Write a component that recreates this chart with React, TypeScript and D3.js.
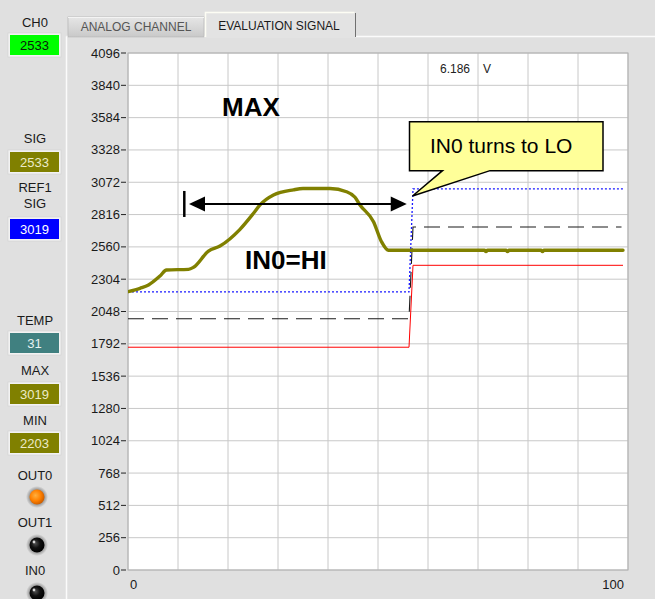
import React from 'react';
import * as d3 from 'd3';

const W = 655;
const H = 599;
const FONT = "'Liberation Sans', Arial, Helvetica, sans-serif";

// axis ticks
const yTickValues = [0, 256, 512, 768, 1024, 1280, 1536, 1792, 2048, 2304, 2560, 2816, 3072, 3328, 3584, 3840, 4096];
const xGridValues = [0, 10, 20, 30, 40, 50, 60, 70, 80, 90, 100];
const xTickLabels = [0, 100];

// SIG (olive) curve
const sigX = [0, 2.4, 4.1, 6.4, 7.7, 12.1, 13.1, 16.1, 18.4, 22.4, 25.1, 26.4, 29.1, 33.1, 35.0, 40.4, 43.7, 45.4, 46.4, 49.1, 50.7, 52.1, 71.3, 71.6, 71.9, 75.6, 75.9, 76.2, 82.6, 82.9, 83.2, 99];
const sigY = [2205, 2232, 2258, 2329, 2377, 2382, 2398, 2527, 2567, 2699, 2826, 2892, 2971, 3012, 3022, 3022, 2997, 2953, 2892, 2760, 2601, 2533, 2533, 2522, 2533, 2533, 2522, 2533, 2533, 2522, 2533, 2533];

// REF1 SIG (blue dotted)
const refX = [0, 56.2, 57.0, 99];
const refY = [2203, 2203, 3019, 3019];
// lower threshold (red)
const lowX = [0, 56.2, 57.0, 99];
const lowY = [1765, 1765, 2414, 2414];
// switching threshold (dashed)
const midX = [0, 56.2, 57.0, 98.7];
const midY = [1990, 1990, 2718, 2718];

// left panel indicators
const indLabels = ['CH0', 'SIG', 'REF1|SIG', 'TEMP', 'MAX', 'MIN'];
const indValues = ['2533', '2533', '3019', '31', '3019', '2203'];
const indFill = ['#00ff00', '#808000', '#0000ff', '#408080', '#808000', '#808000'];
const indText = ['#0a200a', '#ecebc8', '#ffffff', '#e6f2f2', '#ecebc8', '#ecebc8'];
const ledLabels = ['OUT0', 'OUT1', 'IN0'];
const ledOn = [true, false, false];

// annotations
const voltText = '6.186';
const voltUnit = 'V';

export default function App() {
  const x = d3.scaleLinear().domain([0, 100]).range([128, 628]);
  const y = d3.scaleLinear().domain([0, 4096]).range([570, 53]);

  const line = d3.line<[number, number]>().x(d => x(d[0])).y(d => y(d[1]));
  const smooth = d3.line<[number, number]>().x(d => x(d[0])).y(d => y(d[1])).curve(d3.curveMonotoneX);

  const zip = (a: number[], b: number[]) => a.map((v, i) => [v, b[i]] as [number, number]);

  // indicator layout
  const labelYs = [[27], [143], [192, 208], [325], [375], [425]];
  const boxYs = [35, 152, 219, 333, 384, 433];
  const ledLabelY = [480, 527, 575];
  const ledCY = [497, 545, 593];

  // callout in data space
  const cb = { x0: 56.3, x1: 95.0, v0: 3552, v1: 3164 };
  const calloutPath = [
    [x(cb.x0), y(cb.v0)],
    [x(cb.x1), y(cb.v0)],
    [x(cb.x1), y(cb.v1)],
    [x(72.4), y(cb.v1)],
    [x(56.9), y(2963)],
    [x(62.9), y(cb.v1)],
    [x(cb.x0), y(cb.v1)],
  ];
  const calloutD = 'M' + calloutPath.map(p => p.join(',')).join('L') + 'Z';

  const arrowV = 2900;
  const ay = y(arrowV);
  const aL = x(12.2);
  const aR = x(55.75);

  return (
    <svg width={W} height={H} style={{ position: 'absolute', left: 0, top: 0, display: 'block' }} fontFamily={FONT}>
      <defs>
        <radialGradient id="ledOn" cx="40%" cy="40%" r="60%">
          <stop offset="0%" stopColor="#ffb040" />
          <stop offset="60%" stopColor="#ff8000" />
          <stop offset="100%" stopColor="#d06000" />
        </radialGradient>
        <radialGradient id="ledOff" cx="40%" cy="40%" r="60%">
          <stop offset="0%" stopColor="#505050" />
          <stop offset="50%" stopColor="#101010" />
          <stop offset="100%" stopColor="#000000" />
        </radialGradient>
        <radialGradient id="halo" cx="50%" cy="50%" r="50%">
          <stop offset="60%" stopColor="#8a8a8a" />
          <stop offset="100%" stopColor="#e0e0e0" />
        </radialGradient>
        <linearGradient id="tab1" x1="0" y1="0" x2="0" y2="1">
          <stop offset="0%" stopColor="#e6e6e6" />
          <stop offset="100%" stopColor="#c9c9c9" />
        </linearGradient>
        <clipPath id="plotClip">
          <rect x={x(0)} y={y(4096)} width={x(100) - x(0)} height={y(0) - y(4096)} />
        </clipPath>
      </defs>

      {/* background */}
      <rect x={0} y={0} width={W} height={H} fill="#e0e0e0" />

      {/* tab panel */}
      <line x1={66.5} y1={36.5} x2={W} y2={36.5} stroke="#fbfbfb" strokeWidth={1.5} />
      <line x1={66.5} y1={36.5} x2={66.5} y2={H} stroke="#fbfbfb" strokeWidth={1.5} />

      {/* tabs */}
      <rect x={68} y={17} width={136} height={20} fill="url(#tab1)" stroke="#b8b8b8" strokeWidth={0.8} />
      <line x1={68} y1={17.5} x2={204} y2={17.5} stroke="#f4f4f4" />
      <text x={136} y={31} textAnchor="middle" fontSize={12} fill="#555555">ANALOG CHANNEL</text>
      <rect x={205} y={12} width={150} height={26} fill="#e3e3e3" />
      <path d="M205.5,37 L205.5,12.5 L354.5,12.5" fill="none" stroke="#fdfdf4" strokeWidth={1.5} />
      <line x1={355.5} y1={13} x2={355.5} y2={37} stroke="#707070" strokeWidth={1} />
      <text x={279} y={30} textAnchor="middle" fontSize={12} fill="#1a1a1a">EVALUATION SIGNAL</text>

      {/* plot area */}
      <rect x={x(0)} y={y(4096)} width={x(100) - x(0)} height={y(0) - y(4096)} fill="#ffffff" />
      {xGridValues.map(v => (
        <line key={'gx' + v} x1={x(v)} x2={x(v)} y1={y(4096)} y2={y(0)} stroke="#c8c8c8" strokeWidth={1} />
      ))}
      {yTickValues.map(v => (
        <line key={'gy' + v} x1={x(0)} x2={x(100)} y1={y(v)} y2={y(v)} stroke="#c8c8c8" strokeWidth={1} />
      ))}
      <rect x={x(0)} y={y(4096)} width={x(100) - x(0)} height={y(0) - y(4096)} fill="none" stroke="#b0b0b0" strokeWidth={1} />

      {/* y axis ticks & labels */}
      {yTickValues.map(v => (
        <g key={'yt' + v}>
          <line x1={121} x2={126} y1={y(v)} y2={y(v)} stroke="#222" strokeWidth={1} />
          <text x={120} y={y(v) + 4.5} textAnchor="end" fontSize={13} fill="#1a1a1a">{v}</text>
        </g>
      ))}
      {xTickLabels.map((v, i) => (
        <text key={'xt' + v} x={i === 0 ? x(v) + 2 : x(v) - 4} y={589} textAnchor={i === 0 ? 'start' : 'end'} fontSize={13} fill="#1a1a1a">{v}</text>
      ))}

      {/* voltage readout */}
      <text x={x(62.4)} y={y(3936)} fontSize={12} fill="#222">{voltText}</text>
      <text x={x(71)} y={y(3936)} fontSize={12} fill="#222">{voltUnit}</text>

      {/* data lines */}
      <g clipPath="url(#plotClip)">
        <path d={line(zip(lowX, lowY)) || ''} fill="none" stroke="#ff0000" strokeWidth={1} />
        <path d={line(zip(midX, midY)) || ''} fill="none" stroke="#1a1a1a" strokeWidth={1.1} strokeDasharray="16,8" />
        <path d={line(zip(refX, refY)) || ''} fill="none" stroke="#1a1aff" strokeWidth={1.3} strokeDasharray="2,2" />
        <path d={smooth(zip(sigX, sigY)) || ''} fill="none" stroke="#808000" strokeWidth={3.4} strokeLinejoin="round" strokeLinecap="round" />
      </g>

      {/* annotations */}
      <text x={x(24.6)} y={y(3597)} textAnchor="middle" fontSize={26} fontWeight="bold" fill="#000">MAX</text>
      <text x={x(23.4)} y={y(2385)} fontSize={26} fontWeight="bold" fill="#000">IN0=HI</text>

      <line x1={x(11.26)} x2={x(11.26)} y1={ay - 13} y2={ay + 13} stroke="#000" strokeWidth={2.5} />
      <line x1={aL + 12} x2={aR - 12} y1={ay} y2={ay} stroke="#000" strokeWidth={2} />
      <path d={`M${aL},${ay} L${aL + 16},${ay - 7.5} L${aL + 16},${ay + 7.5} Z`} fill="#000" />
      <path d={`M${aR},${ay} L${aR - 16},${ay - 7.5} L${aR - 16},${ay + 7.5} Z`} fill="#000" />

      <path d={calloutD} fill="#ffff99" stroke="#000" strokeWidth={1.5} strokeLinejoin="miter" />
      <text x={x(60.4)} y={y(3302)} fontSize={21} fill="#000">IN0 turns to LO</text>

      {/* left panel indicators */}
      {indLabels.map((lab, i) => (
        <g key={'ind' + i}>
          {lab.split('|').map((t, j) => (
            <text key={j} x={35} y={labelYs[i][j]} textAnchor="middle" fontSize={13} fill="#1a1a1a">{t}</text>
          ))}
          <rect x={8} y={boxYs[i] - 2} width={53} height={24} fill="#f2f2f2" stroke="#d0d0d0" strokeWidth={0.6} />
          <rect x={10} y={boxYs[i]} width={49} height={20} fill={indFill[i]} />
          <text x={34.5} y={boxYs[i] + 15} textAnchor="middle" fontSize={13} fill={indText[i]}>{indValues[i]}</text>
        </g>
      ))}
      {ledLabels.map((lab, i) => (
        <g key={'led' + i}>
          <text x={35} y={ledLabelY[i]} textAnchor="middle" fontSize={13} fill="#1a1a1a">{lab}</text>
          <circle cx={37} cy={ledCY[i]} r={11} fill="url(#halo)" />
          <circle cx={37} cy={ledCY[i]} r={7.5} fill={ledOn[i] ? 'url(#ledOn)' : 'url(#ledOff)'} />
          {!ledOn[i] && <circle cx={34} cy={ledCY[i] - 3} r={1.4} fill="#d8d8d8" />}
        </g>
      ))}
    </svg>
  );
}
